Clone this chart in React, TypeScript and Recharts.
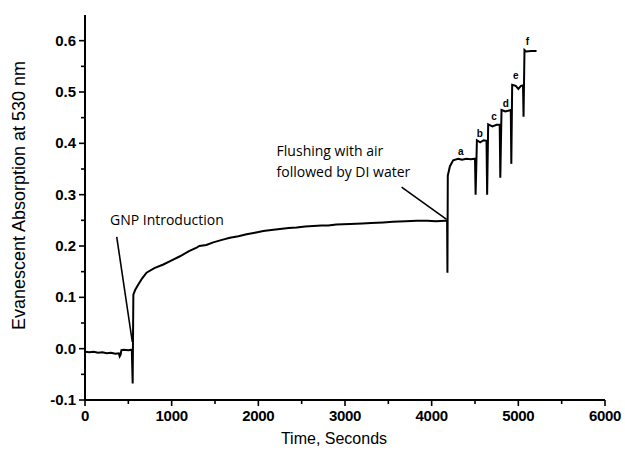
import React from 'react';
import { LineChart, Line, XAxis, YAxis, ReferenceLine, ReferenceDot, Label } from 'recharts';

// Time (s) and evanescent absorption at 530 nm
const timeSeconds = [
  0, 50, 100, 150, 200, 250, 300, 350, 390, 400, 410, 420, 450, 500, 540, 550, 558,
  580, 615, 660, 710, 800, 904, 1000, 1096, 1200, 1288, 1320, 1400, 1480, 1580, 1672,
  1770, 1865, 1960, 2057, 2150, 2249, 2350, 2442, 2540, 2634, 2730, 2806, 2900, 3057,
  3200, 3300, 3441, 3550, 3700, 3826, 3950, 4050, 4152, 4178, 4182, 4186, 4210, 4248,
  4306, 4350, 4400, 4450, 4500, 4507, 4522, 4560, 4600, 4633, 4640, 4652, 4700, 4750,
  4785, 4792, 4806, 4850, 4913, 4919, 4929, 4970, 5000, 5030, 5054, 5060, 5071, 5090,
  5150, 5210,
];
const absorbance = [
  -0.006, -0.007, -0.006, -0.008, -0.007, -0.009, -0.008, -0.010, -0.009, -0.015, -0.012,
  -0.003, -0.002, -0.003, -0.002, -0.068, 0.105,
  0.115, 0.125, 0.137, 0.148, 0.157, 0.164, 0.172, 0.18, 0.19, 0.197, 0.2, 0.202, 0.207,
  0.212, 0.216, 0.219, 0.223, 0.226, 0.229, 0.231, 0.233, 0.235, 0.236, 0.238, 0.239,
  0.24, 0.24, 0.242, 0.243, 0.244, 0.245, 0.246, 0.247, 0.248, 0.249, 0.249, 0.248,
  0.249, 0.249, 0.148, 0.337, 0.355, 0.367,
  0.37, 0.368, 0.37, 0.369, 0.37, 0.3, 0.406, 0.402, 0.406, 0.405, 0.3, 0.437, 0.433,
  0.436, 0.436, 0.333, 0.465, 0.462, 0.465, 0.36, 0.514, 0.512, 0.506, 0.512, 0.513,
  0.452, 0.582, 0.579, 0.58, 0.58,
];

const xTicks = [0, 500, 1000, 1500, 2000, 2500, 3000, 3500, 4000, 4500, 5000, 5500, 6000];
const yTicks = [-0.1, -0.05, 0, 0.05, 0.1, 0.15, 0.2, 0.25, 0.3, 0.35, 0.4, 0.45, 0.5, 0.55, 0.6];

const stepLabels = ['a', 'b', 'c', 'd', 'e', 'f'];
const stepLabelTime = [4337, 4556, 4721, 4856, 4971, 5106];
const stepLabelValue = [0.384, 0.42, 0.452, 0.478, 0.532, 0.599];

const gnpText = 'GNP Introduction';
const gnpTextAt = { t: 288, v: 0.2406 };
const gnpPointer = [{ x: 366, y: 0.218 }, { x: 546, y: 0.013 }];

const flushText = ['Flushing with air', 'followed by DI water'];
const flushTextAt = { t: 2211, v: 0.376 };
const flushPointer = [{ x: 3653, y: 0.3145 }, { x: 4172, y: 0.252 }];

const data = timeSeconds.map((t, i) => ({ t, v: absorbance[i] }));

const tickFont = '"Liberation Sans", Arial, sans-serif';
const noteFont = '"Open Sans", sans-serif';

const XTick = (props: any) => {
  const { x, y, payload } = props;
  const major = payload.value % 1000 === 0;
  return (
    <g>
      <line x1={x} x2={x} y1={y} y2={y + (major ? 6 : 4)} stroke="#000" strokeWidth={1.6} />
      {major && (
        <text x={x} y={y + 21} textAnchor="middle" fontFamily={tickFont} fontWeight="bold" fontSize={15} letterSpacing={-0.3} fill="#000">
          {payload.value}
        </text>
      )}
    </g>
  );
};

const YTick = (props: any) => {
  const { x, y, payload } = props;
  const v = payload.value;
  const major = Math.abs(v * 10 - Math.round(v * 10)) < 1e-6;
  return (
    <g>
      <line x1={x - (major ? 6 : 4)} x2={x} y1={y} y2={y} stroke="#000" strokeWidth={1.6} />
      {major && (
        <text x={x - 9} y={y + 5} textAnchor="end" fontFamily={tickFont} fontWeight="bold" fontSize={15} fill="#000">
          {v.toFixed(1)}
        </text>
      )}
    </g>
  );
};

export default function App() {
  return (
    <div style={{ position: 'absolute', left: 0, top: 0, background: '#fff' }}>
      <LineChart width={625} height={457} data={data} margin={{ top: 15, right: 20, bottom: 0, left: 0 }}>
        <XAxis
          dataKey="t"
          type="number"
          domain={[0, 6000]}
          ticks={xTicks}
          interval={0}
          tickLine={false}
          tickSize={0}
          tickMargin={0}
          height={57}
          axisLine={{ stroke: '#000', strokeWidth: 2 }}
          tick={<XTick />}
        >
          <Label
            content={(p: any) => (
              <text
                x={p.viewBox.x + p.viewBox.width / 2 - 11}
                y={p.viewBox.y + 44}
                textAnchor="middle"
                fontFamily={tickFont}
                fontSize={16}
                fill="#000"
              >
                Time, Seconds
              </text>
            )}
          />
        </XAxis>
        <YAxis
          type="number"
          domain={[-0.1, 0.65]}
          ticks={yTicks}
          interval={0}
          allowDataOverflow
          tickLine={false}
          tickSize={0}
          tickMargin={0}
          width={85}
          axisLine={{ stroke: '#000', strokeWidth: 2 }}
          tick={<YTick />}
        >
          <Label
            content={(p: any) => {
              const cx = 19;
              const cy = p.viewBox.y + p.viewBox.height / 2 - 12;
              return (
                <text
                  x={cx}
                  y={cy}
                  transform={`rotate(-90 ${cx} ${cy})`}
                  textAnchor="middle"
                  dominantBaseline="central"
                  fontFamily={tickFont}
                  fontSize={18}
                  fill="#000"
                >
                  Evanescent Absorption at 530 nm
                </text>
              );
            }}
          />
        </YAxis>
        <Line
          type="linear"
          dataKey="v"
          stroke="#000"
          strokeWidth={2}
          dot={false}
          isAnimationActive={false}
        />
        <ReferenceLine segment={gnpPointer} stroke="#000" strokeWidth={1.6} ifOverflow="visible" />
        <ReferenceLine segment={flushPointer} stroke="#000" strokeWidth={1.6} ifOverflow="visible" />
        <ReferenceDot
          x={gnpTextAt.t}
          y={gnpTextAt.v}
          r={0}
          fill="none"
          stroke="none"
          ifOverflow="visible"
          label={{
            content: (p: any) => (
              <text x={p.viewBox.x} y={p.viewBox.y} fontFamily={noteFont} fontSize={14} fill="#000">
                {gnpText}
              </text>
            ),
          }}
        />
        <ReferenceDot
          x={flushTextAt.t}
          y={flushTextAt.v}
          r={0}
          fill="none"
          stroke="none"
          ifOverflow="visible"
          label={{
            content: (p: any) => (
              <text x={p.viewBox.x} y={p.viewBox.y} fontFamily={noteFont} fontSize={14} fill="#000">
                <tspan x={p.viewBox.x} dy={0}>{flushText[0]}</tspan>
                <tspan x={p.viewBox.x} dy={21}>{flushText[1]}</tspan>
              </text>
            ),
          }}
        />
        {stepLabels.map((s, i) => (
          <ReferenceDot
            key={s}
            x={stepLabelTime[i]}
            y={stepLabelValue[i]}
            r={0}
            fill="none"
            stroke="none"
            ifOverflow="visible"
            label={{
              content: (p: any) => (
                <text
                  x={p.viewBox.x}
                  y={p.viewBox.y}
                  textAnchor="middle"
                  dominantBaseline="central"
                  fontFamily={tickFont}
                  fontWeight="bold"
                  fontSize={10}
                  fill="#000"
                >
                  {s}
                </text>
              ),
            }}
          />
        ))}
      </LineChart>
    </div>
  );
}
